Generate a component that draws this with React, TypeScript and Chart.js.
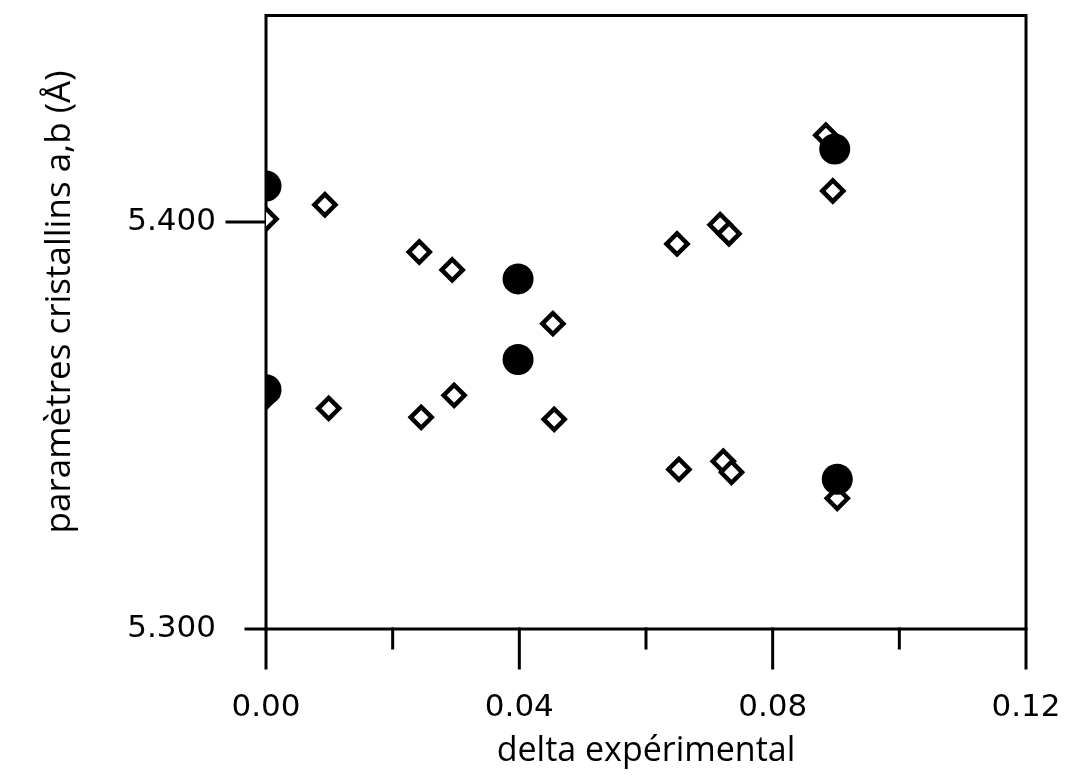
import React, { useEffect, useRef } from "react";
import { Chart, registerables } from "chart.js";

Chart.register(...registerables);

// Filled circles (large black dots)
const circleX = [0.0, 0.0, 0.0398, 0.0398, 0.0898, 0.0902];
const circleY = [5.4088, 5.3588, 5.386, 5.3662, 5.4179, 5.3368];

// Open diamonds
const diamondX = [
  0.0, 0.0093, 0.0242, 0.0294, 0.0453, 0.0649, 0.0717, 0.0731, 0.0884, 0.0895,
  0.0, 0.0099, 0.0245, 0.0297, 0.0455, 0.0652, 0.0722, 0.0735, 0.0902,
];
const diamondY = [
  5.4007, 5.4042, 5.3926, 5.3882, 5.375, 5.3946, 5.3993, 5.3971, 5.4213, 5.4076,
  5.3569, 5.3542, 5.352, 5.3574, 5.3515, 5.3392, 5.3412, 5.3385, 5.3321,
];

const xMajorTicks = [0.0, 0.04, 0.08, 0.12];
const xMinorTicks = [0.02, 0.06, 0.1];
const yTicks = [5.3, 5.4];
const xMin = 0.0;
const xMax = 0.12;
const yMin = 5.3;
const yMax = 5.4507;

const xTitle = "delta expérimental";
const yTitle = "paramètres cristallins a,b (Å)";

const TITLE_FONT = "'Open Sans', 'DejaVu Sans', sans-serif";
const TICK_FONT = "'DejaVu Sans', 'Open Sans', sans-serif";

const framePlugin = {
  id: "frame",
  beforeDatasetsDraw(chart: any) {
    const { ctx, chartArea: a, scales } = chart;
    ctx.save();
    ctx.strokeStyle = "#000";
    ctx.lineWidth = 3;
    ctx.lineCap = "square";
    ctx.strokeRect(a.left, a.top, a.right - a.left, a.bottom - a.top);
    ctx.beginPath();
    xMajorTicks.forEach((v) => {
      const px = scales.x.getPixelForValue(v);
      ctx.moveTo(px, a.bottom);
      ctx.lineTo(px, a.bottom + 39);
    });
    xMinorTicks.forEach((v) => {
      const px = scales.x.getPixelForValue(v);
      ctx.moveTo(px, a.bottom);
      ctx.lineTo(px, a.bottom + 19);
    });
    yTicks.forEach((v, i) => {
      const py = scales.y.getPixelForValue(v);
      const len = i === 0 ? 20 : 39;
      ctx.moveTo(a.left - len, py);
      ctx.lineTo(a.left, py);
    });
    ctx.stroke();
    ctx.restore();
  },
  afterDraw(chart: any) {
    const { ctx, chartArea: a } = chart;
    ctx.save();
    ctx.fillStyle = "#000";
    ctx.font = `35px ${TITLE_FONT}`;
    ctx.textAlign = "center";
    ctx.textBaseline = "alphabetic";
    ctx.translate(70, a.top + (a.bottom - a.top) * 0.467);
    ctx.rotate(-Math.PI / 2);
    ctx.fillText(yTitle, 0, 0);
    ctx.restore();
  },
};

const zeroPad = (scale: any) => {
  scale.paddingTop = 0;
  scale.paddingBottom = 0;
  scale.paddingLeft = 0;
  scale.paddingRight = 0;
};

export default function App() {
  const ref = useRef<HTMLCanvasElement | null>(null);

  useEffect(() => {
    if (!ref.current) return;
    const circles = circleX.map((x, i) => ({ x, y: circleY[i] }));
    const diamonds = diamondX.map((x, i) => ({ x, y: diamondY[i] }));
    const chart = new Chart(ref.current, {
      type: "scatter",
      data: {
        datasets: [
          {
            label: "calc",
            data: circles,
            pointStyle: "circle",
            pointRadius: 15.5,
            pointHoverRadius: 15.5,
            backgroundColor: "#000",
            borderColor: "#000",
            borderWidth: 0,
          },
          {
            label: "exp",
            data: diamonds,
            pointStyle: "rectRot",
            pointRadius: 10.5,
            pointHoverRadius: 10.5,
            backgroundColor: "#fff",
            borderColor: "#000",
            borderWidth: 4.5,
          },
        ],
      },
      options: {
        responsive: false,
        animation: false,
        events: [],
        layout: { padding: { top: 14, right: 47, left: 0, bottom: 0 } },
        plugins: {
          legend: { display: false },
          tooltip: { enabled: false },
        },
        scales: {
          x: {
            type: "linear",
            min: xMin,
            max: xMax,
            border: { display: false },
            grid: { display: false, drawTicks: false },
            afterBuildTicks: (scale: any) => {
              scale.ticks = xMajorTicks.map((v) => ({ value: v }));
            },
            afterFit: (scale: any) => {
              scale.height = 146;
              zeroPad(scale);
            },
            ticks: {
              padding: 60,
              color: "#000",
              font: { family: TICK_FONT, size: 31 },
              callback: (v: any) => Number(v).toFixed(2),
            },
            title: {
              display: true,
              text: xTitle,
              color: "#000",
              font: { family: TITLE_FONT, size: 34 },
              padding: { top: 0, bottom: 3 },
            },
          },
          y: {
            type: "linear",
            min: yMin,
            max: yMax,
            border: { display: false },
            grid: { display: false, drawTicks: false },
            afterBuildTicks: (scale: any) => {
              scale.ticks = yTicks.map((v) => ({ value: v }));
            },
            afterFit: (scale: any) => {
              scale.width = 266;
              zeroPad(scale);
            },
            ticks: {
              padding: 50,
              color: "#000",
              font: { family: TICK_FONT, size: 31 },
              callback: (v: any) => Number(v).toFixed(3),
            },
            title: { display: false },
          },
        },
      },
      plugins: [framePlugin],
    });
    return () => chart.destroy();
  }, []);

  return (
    <div style={{ position: "absolute", left: 0, top: 0, width: 1073, height: 775, background: "#fff" }}>
      <canvas ref={ref} width={1073} height={775} />
    </div>
  );
}
